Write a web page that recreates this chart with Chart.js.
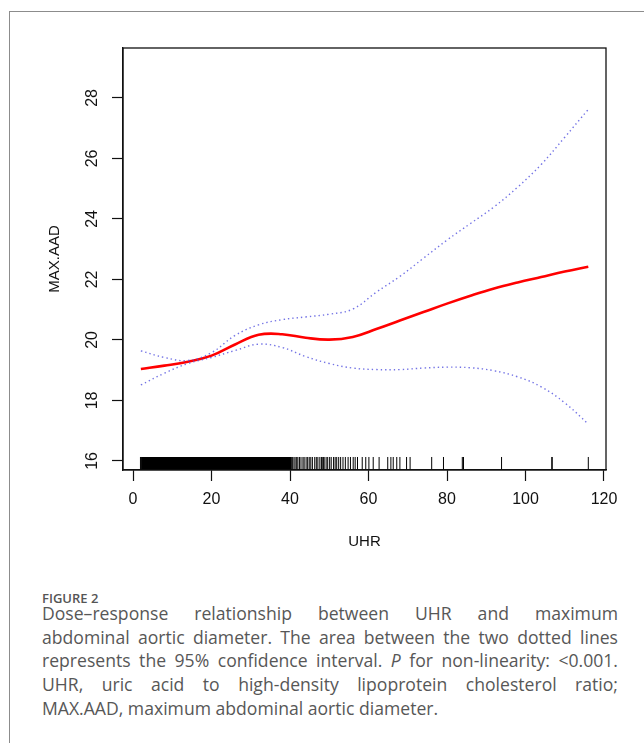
<!DOCTYPE html>
<html>
<head>
<meta charset="utf-8">
<script src="https://cdn.jsdelivr.net/npm/chart.js@4.4.1/dist/chart.umd.min.js"></script>
<style>
  html, body { margin: 0; padding: 0; background: #fff; }
  body { width: 644px; height: 743px; position: relative; overflow: hidden; }
  .frame { position: absolute; left: 9px; top: 11px; width: 700px; height: 800px;
           border-top: 1.5px solid #8c8c8c; border-left: 1.5px solid #8c8c8c; }
  #chart { position: absolute; left: 0; top: 0; }
  .caption { position: absolute; left: 42px; top: 594px; width: 576px;
             font-family: 'Open Sans', sans-serif; color: #575757; }
  .caption .fig { font-size: 13px; font-weight: 600; line-height: 8px; color: #555; }
  .caption .ln { font-size: 17.6px; line-height: 23.7px; text-align: justify; text-align-last: justify; white-space: nowrap; }
  .caption .ln.last { text-align-last: left; }
</style>
</head>
<body>
<div class="frame"></div>
<canvas id="chart" width="644" height="560"></canvas>
<div class="caption">
  <div class="fig">FIGURE 2</div>
  <div class="ln">Dose–response relationship between UHR and maximum</div>
  <div class="ln">abdominal aortic diameter. The area between the two dotted lines</div>
  <div class="ln">represents the 95% confidence interval. <i>P</i> for non-linearity: &lt;0.001.</div>
  <div class="ln">UHR, uric acid to high-density lipoprotein cholesterol ratio;</div>
  <div class="ln last">MAX.AAD, maximum abdominal aortic diameter.</div>
</div>
<script>
// ── Axis ticks ──
const xTicks = [0, 20, 40, 60, 80, 100, 120];
const yTicks = [16, 18, 20, 22, 24, 26, 28];

// ── Spline fit and 95% CI ──
const curveX = [2, 8, 14, 20, 26, 32, 38, 44, 50, 56, 62, 68, 74, 80, 86, 92, 98, 104, 110, 116];
const fitY   = [19.04, 19.15, 19.28, 19.48, 19.85, 20.17, 20.19, 20.07, 20.01, 20.10,
                20.36, 20.64, 20.92, 21.20, 21.46, 21.70, 21.90, 22.08, 22.26, 22.42];
const upperY = [19.64, 19.42, 19.32, 19.58, 20.15, 20.50, 20.67, 20.76, 20.85, 21.02,
                21.58, 22.10, 22.70, 23.30, 23.85, 24.40, 25.05, 25.80, 26.70, 27.62];
const lowerY = [18.51, 18.90, 19.22, 19.42, 19.65, 19.86, 19.75, 19.45, 19.22, 19.07,
                19.02, 19.02, 19.07, 19.10, 19.08, 18.98, 18.78, 18.45, 17.92, 17.22];

// ── Rug of observed UHR values ──
const rugDense = [2.5, 3.0, 3.5, 4.0, 4.5, 5.0, 5.5, 6.0, 6.5, 7.0, 7.5, 8.0, 8.5, 9.0, 9.5,
                  10.0, 10.5, 11.0, 11.5, 12.0, 12.5, 13.0, 13.5, 14.0, 14.5, 15.0, 15.5, 16.0,
                  16.5, 17.0, 17.5, 18.0, 18.5, 19.0, 19.5, 20.0, 20.5, 21.0, 21.5, 22.0, 22.5,
                  23.0, 23.5, 24.0, 24.5, 25.0, 25.5, 26.0, 26.5, 27.0, 27.5, 28.0, 28.5, 29.0,
                  29.5, 30.0, 30.5, 31.0, 31.5, 32.0, 32.5, 33.0, 33.5, 34.0, 34.5, 35.0, 35.5,
                  36.0, 36.5, 37.0, 37.5, 38.0, 38.5, 39.0, 39.5, 40.0];
const rugSparse = [1.9, 2.2,
                   40.3, 40.6, 41.0, 41.3, 41.7, 42.0, 42.4, 42.8, 43.3, 43.6, 44.1, 44.5,
                   44.9, 45.3, 45.7, 46.3, 46.7, 47.1, 47.6, 48.0, 48.2, 48.5, 48.7, 49.2,
                   49.6, 50.1, 50.5, 51.1, 51.5, 51.9, 52.4, 52.9, 53.5, 54.1, 54.8, 55.4,
                   56.1, 56.6, 57.2, 58.4, 59.3, 60.1, 61.2, 62.7, 64.9, 65.7, 66.3, 67.2,
                   68.0, 69.7, 70.6, 76.1, 79.1, 83.9, 84.2, 93.9, 106.7, 106.8, 116.0];

const xMin = -2.55, xMax = 120.51;
const yMin = 15.70, yMax = 29.65;
const rugY = 15.915;

const pts = (xs, ys) => xs.map((x, i) => ({ x, y: ys[i] }));
const rugPts = xs => xs.map(x => ({ x, y: rugY }));

const ciStyle = {
    showLine: true,
    pointRadius: 0,
    borderColor: 'rgba(90, 90, 225, 0.85)',
    borderWidth: 1.4,
    borderDash: [1.4, 3],
    tension: 0.4,
};

const rugStyle = {
    showLine: false,
    pointStyle: 'line',
    rotation: 90,
    pointRadius: 6.5,
    borderColor: '#000',
    backgroundColor: '#000',
};

const boxPlugin = {
    id: 'plotBox',
    afterDatasetsDraw(chart) {
        const { ctx, chartArea: a } = chart;
        ctx.save();
        ctx.strokeStyle = '#111';
        ctx.lineWidth = 1.3;
        ctx.strokeRect(a.left, a.top, a.right - a.left, a.bottom - a.top);
        ctx.restore();
    },
};

const axisFont = { family: "'Liberation Sans', Arial, sans-serif", size: 16 };
const titleFont = { family: "'Liberation Sans Narrow', 'Arial Narrow', 'Liberation Sans', sans-serif", size: 15 };

new Chart(document.getElementById('chart'), {
    type: 'scatter',
    data: {
        datasets: [
            { ...rugStyle, data: rugPts(rugDense), borderWidth: 3 },
            { ...rugStyle, data: rugPts(rugSparse), borderWidth: 1 },
            { ...ciStyle, data: pts(curveX, upperY) },
            { ...ciStyle, data: pts(curveX, lowerY) },
            {
                data: pts(curveX, fitY),
                showLine: true,
                pointRadius: 0,
                borderColor: '#ff0000',
                borderWidth: 2.6,
                tension: 0.4,
            },
        ],
    },
    options: {
        responsive: false,
        animation: false,
        layout: { padding: { left: 0, right: 38, top: 48, bottom: 0 } },
        plugins: { legend: { display: false }, tooltip: { enabled: false } },
        scales: {
            x: {
                type: 'linear',
                min: xMin,
                max: xMax,
                afterBuildTicks: s => { s.ticks = xTicks.map(v => ({ value: v })); },
                afterFit: s => { s.height = 90; },
                grid: { drawOnChartArea: false, tickLength: 11, color: '#111', tickWidth: 1.2 },
                border: { color: '#111', width: 1.3 },
                ticks: { color: '#111', font: axisFont, padding: 9, maxRotation: 0, autoSkip: false },
                title: { display: true, text: 'UHR', color: '#111', font: titleFont, padding: { top: 0, bottom: 9 } },
            },
            y: {
                type: 'linear',
                min: yMin,
                max: yMax,
                afterBuildTicks: s => { s.ticks = yTicks.map(v => ({ value: v })); },
                afterFit: s => { s.width = 123; },
                grid: { drawOnChartArea: false, tickLength: 11, color: '#111', tickWidth: 1.2 },
                border: { color: '#111', width: 1.3 },
                ticks: { color: '#111', font: axisFont, padding: 11, minRotation: 90, maxRotation: 90, crossAlign: 'center', autoSkip: false },
                title: { display: true, text: 'MAX.AAD', color: '#111', font: titleFont, padding: { top: 46, bottom: 0 } },
            },
        },
    },
    plugins: [boxPlugin],
});
</script>
</body>
</html>
